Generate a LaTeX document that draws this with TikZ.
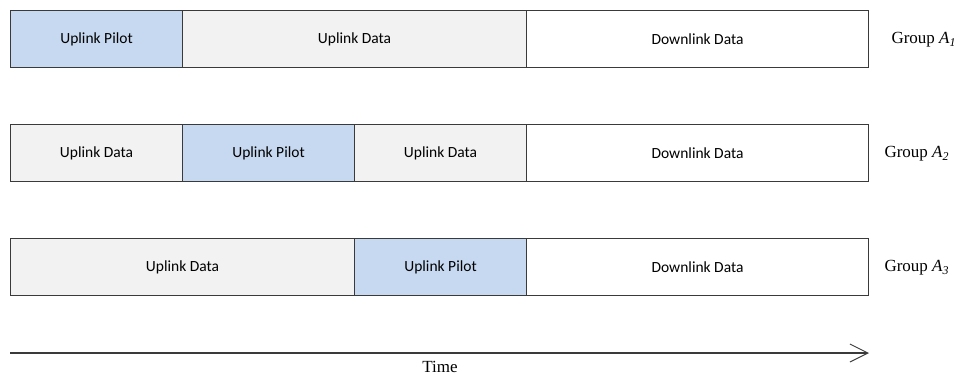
\documentclass[tikz,border=0pt]{standalone}
\usepackage{fontspec}
\setmainfont{Liberation Serif}
\newfontfamily\boxfont{Carlito}
\usetikzlibrary{arrows.meta}
\definecolor{pilotblue}{HTML}{C6D9F0}
\definecolor{datagray}{HTML}{F2F2F2}
\definecolor{edgegray}{HTML}{3A3A3A}
\tikzset{
  slot/.style={draw=edgegray, line width=1.1pt, minimum height=57pt,
    inner sep=0pt, anchor=north west, font=\boxfont\fontsize{15.5}{18}\selectfont},
  pilot/.style={slot, fill=pilotblue},
  uldata/.style={slot, fill=datagray},
  dldata/.style={slot, fill=white},
  grouplabel/.style={anchor=west, font=\fontsize{17}{20}\selectfont},
}
\begin{document}
\begin{tikzpicture}[x=1pt, y=-1pt]
\useasboundingbox (0,0) rectangle (954,375);
% Group A1
\node[pilot,  minimum width=172pt] (p1)  at (10,10)  {Uplink Pilot};
\node[uldata, minimum width=344pt] (u1)  at (182,10) {Uplink Data};
\node[dldata, minimum width=342pt] (d1)  at (526,10) {Downlink Data};
\node[grouplabel] (g1) at (888,40) {Group \textit{A\textsubscript{1}}};
% Group A2
\node[uldata, minimum width=172pt] (u2a) at (10,124)  {Uplink Data};
\node[pilot,  minimum width=172pt] (p2)  at (182,124) {Uplink Pilot};
\node[uldata, minimum width=172pt] (u2b) at (354,124) {Uplink Data};
\node[dldata, minimum width=342pt] (d2)  at (526,124) {Downlink Data};
\node[grouplabel] (g2) at (881,154) {Group \textit{A\textsubscript{2}}};
% Group A3
\node[uldata, minimum width=344pt] (u3)  at (10,238)  {Uplink Data};
\node[pilot,  minimum width=172pt] (p3)  at (354,238) {Uplink Pilot};
\node[dldata, minimum width=342pt] (d3)  at (526,238) {Downlink Data};
\node[grouplabel] (g3) at (881,268) {Group \textit{A\textsubscript{3}}};
% Time axis
\coordinate (t0) at (10,353);
\coordinate (t1) at (869,353);
\draw[edgegray, line width=1.2pt, -{Straight Barb[length=18pt, width=18pt, line width=1pt]}] (t0) -- (t1);
\node[font=\fontsize{17}{20}\selectfont] (tl) at (440,367) {Time};
\end{tikzpicture}
\end{document}
